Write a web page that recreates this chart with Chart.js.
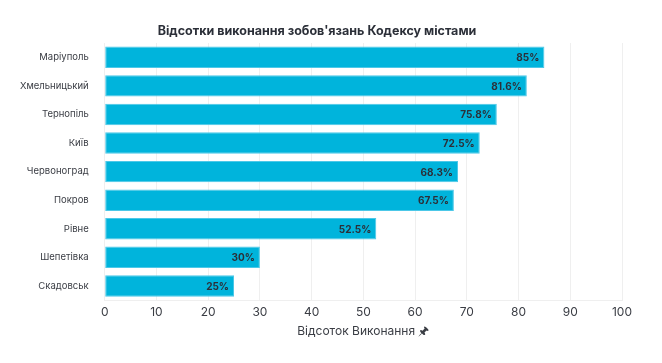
<!DOCTYPE html>
<html>
<head>
<meta charset="utf-8">
<script src="https://cdn.jsdelivr.net/npm/chart.js@4"></script>
<style>
  html, body { margin: 0; padding: 0; background: #fff; }
  #wrap { width: 662px; height: 363px; position: relative; }
</style>
</head>
<body>
<div id="wrap"><canvas id="chart"></canvas></div>
<script>
const cities = ['Маріуполь', 'Хмельницький', 'Тернопіль', 'Київ', 'Червоноград', 'Покров', 'Рівне', 'Шепетівка', 'Скадовськ'];
const percents = [85, 81.6, 75.8, 72.5, 68.3, 67.5, 52.5, 30, 25];
const xTicks = [0, 10, 20, 30, 40, 50, 60, 70, 80, 90, 100];

// labels at the end of each bar
const barLabels = {
    id: 'barLabels',
    afterDatasetsDraw(chart) {
        const ctx = chart.ctx;
        const meta = chart.getDatasetMeta(0);
        ctx.save();
        ctx.font = 'bold 10px Inter';
        ctx.fillStyle = '#2b2f38';
        ctx.textAlign = 'right';
        ctx.textBaseline = 'middle';
        meta.data.forEach((bar, i) => {
            ctx.fillText(percents[i] + '%', bar.x - 5, bar.y + 1);
        });
        ctx.restore();
    }
};

const ctx = document.getElementById('chart').getContext('2d');
const chart = new Chart(ctx, {
    type: 'bar',
    data: {
        labels: cities,
        datasets: [{
            data: percents,
            backgroundColor: '#00b4dc',
            borderColor: '#4cc8e8',
            borderWidth: 1,
            borderSkipped: false,
            categoryPercentage: 0.75,
            barPercentage: 1
        }]
    },
    options: {
        indexAxis: 'y',
        responsive: true,
        maintainAspectRatio: false,
        animation: false,
        layout: { padding: { left: 12, right: 40, top: 0, bottom: 20 } },
        plugins: {
            legend: { display: false },
            tooltip: { enabled: false },
            title: {
                display: true,
                text: "Відсотки виконання зобов'язань Кодексу містами",
                color: '#2b2f38',
                font: { family: 'Inter', size: 12.5, weight: 'bold' },
                padding: { top: 24, bottom: 4 }
            }
        },
        scales: {
            x: {
                min: 0,
                max: 100,
                afterBuildTicks: axis => { axis.ticks = xTicks.map(v => ({ value: v })); },
                grid: { color: '#efefef', drawTicks: false },
                border: { color: '#efefef' },
                ticks: { color: '#3a3d44', font: { family: 'Inter', size: 12 }, padding: 5 },
                title: {
                    display: true,
                    text: 'Відсоток Виконання 🖈',
                    color: '#3a3d44',
                    font: { family: 'Inter', size: 12 },
                    padding: { top: 0 }
                }
            },
            y: {
                grid: { display: false },
                border: { display: false },
                ticks: { color: '#3a3d44', font: { family: 'Inter', size: 9.5 }, padding: 8 }
            }
        }
    },
    plugins: [barLabels]
});
</script>
</body>
</html>
